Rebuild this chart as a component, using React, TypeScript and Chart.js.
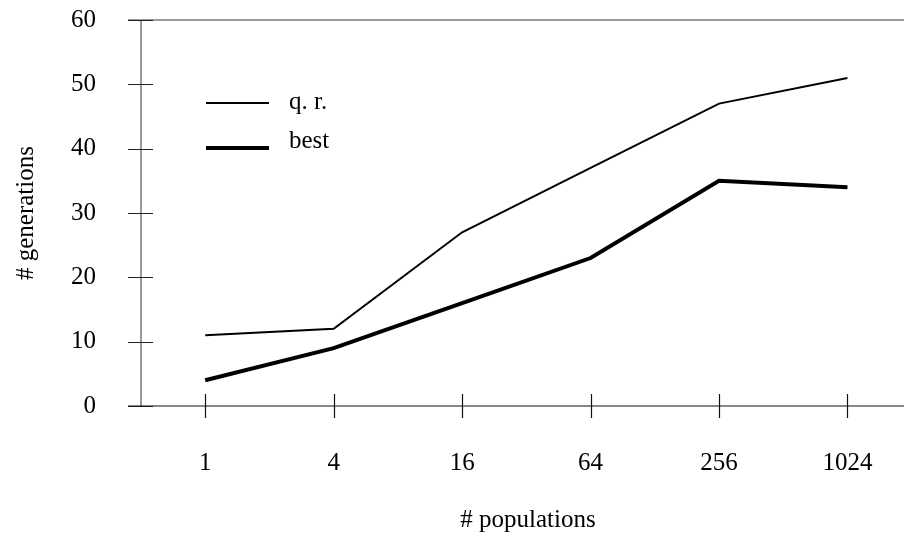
import React, { useEffect, useRef } from "react";
import { Chart, registerables } from "chart.js";

Chart.register(...registerables);

// Number of populations (x categories) and generations needed per series
const populations = ["1", "4", "16", "64", "256", "1024"];
const qrGenerations = [11, 12, 27, 37, 47, 51];
const bestGenerations = [4, 9, 16, 23, 35, 34];
const yTicks = [0, 10, 20, 30, 40, 50, 60];

const seriesLabels = ["q. r.", "best"];
const xTitle = "# populations";
const yTitle = "# generations";

const FONT = "'Liberation Serif', 'Times New Roman', Times, serif";
const FS = 25;
const W = 904;
const H = 538;

// Draws the crossing tick marks, axis lines, in-plot legend and axis titles.
const framePlugin = {
  id: "frame",
  afterDraw(chart: any) {
    const { ctx, chartArea } = chart;
    const { left, right, top, bottom } = chartArea;
    const xs = chart.scales.x;
    const ys = chart.scales.y;
    ctx.save();

    // top frame line
    ctx.strokeStyle = "#7a7a7a";
    ctx.lineWidth = 1.5;
    ctx.beginPath();
    ctx.moveTo(left - 13, top);
    ctx.lineTo(right, top);
    ctx.stroke();

    // y axis line
    ctx.strokeStyle = "#555";
    ctx.lineWidth = 1.2;
    ctx.beginPath();
    ctx.moveTo(left, top);
    ctx.lineTo(left, bottom);
    ctx.stroke();

    // y ticks crossing the axis
    ctx.strokeStyle = "#222";
    ctx.lineWidth = 1;
    yTicks.forEach((v) => {
      const y = Math.round(ys.getPixelForValue(v)) + 0.5;
      ctx.beginPath();
      ctx.moveTo(left - 13, y);
      ctx.lineTo(left + 12, y);
      ctx.stroke();
    });

    // x axis line
    ctx.strokeStyle = "#111";
    ctx.lineWidth = 1.2;
    ctx.beginPath();
    ctx.moveTo(left - 13, bottom);
    ctx.lineTo(right, bottom);
    ctx.stroke();

    // x ticks crossing the axis
    populations.forEach((_, i) => {
      const x = Math.round(xs.getPixelForValue(i)) + 0.5;
      ctx.beginPath();
      ctx.moveTo(x, bottom - 12);
      ctx.lineTo(x, bottom + 12);
      ctx.stroke();
    });

    // legend
    const widths = [2, 4];
    const lineY = [103, 148];
    const textY = [109, 148];
    ctx.fillStyle = "#000";
    ctx.font = `${FS}px ${FONT}`;
    ctx.textBaseline = "alphabetic";
    ctx.textAlign = "left";
    seriesLabels.forEach((lab, i) => {
      ctx.strokeStyle = "#000";
      ctx.lineWidth = widths[i];
      ctx.beginPath();
      ctx.moveTo(206, lineY[i]);
      ctx.lineTo(269, lineY[i]);
      ctx.stroke();
      ctx.fillText(lab, 289, textY[i]);
    });

    // axis titles
    ctx.textAlign = "center";
    ctx.textBaseline = "middle";
    ctx.fillText(xTitle, 528, 520);
    ctx.translate(26, (top + bottom) / 2);
    ctx.rotate(-Math.PI / 2);
    ctx.fillText(yTitle, 0, 0);

    ctx.restore();
  },
};

export default function App() {
  const ref = useRef<HTMLCanvasElement>(null);

  useEffect(() => {
    if (!ref.current) return;
    const toPoints = (arr: number[]) => arr.map((v, i) => ({ x: i, y: v }));
    const chart = new Chart(ref.current, {
      type: "line",
      data: {
        datasets: [
          {
            label: seriesLabels[0],
            data: toPoints(qrGenerations),
            borderColor: "#000",
            borderWidth: 2,
            pointRadius: 0,
            tension: 0,
          },
          {
            label: seriesLabels[1],
            data: toPoints(bestGenerations),
            borderColor: "#000",
            borderWidth: 4,
            pointRadius: 0,
            tension: 0,
          },
        ],
      },
      options: {
        responsive: false,
        animation: false,
        events: [],
        layout: { padding: { top: 20, right: 0, left: 0, bottom: 0 } },
        plugins: {
          legend: { display: false },
          tooltip: { enabled: false },
        },
        scales: {
          x: {
            type: "linear",
            min: -0.5,
            max: 5.44,
            grid: { display: false, drawTicks: false },
            border: { display: false },
            afterBuildTicks: (scale: any) => {
              scale.ticks = populations.map((_, i) => ({ value: i }));
            },
            afterFit: (scale: any) => {
              scale.height = H - 406;
              scale.paddingLeft = 0;
              scale.paddingRight = 0;
            },
            ticks: {
              autoSkip: false,
              maxRotation: 0,
              padding: 42,
              color: "#000",
              font: { family: FONT, size: FS },
              callback: (v: any) => populations[v as number] ?? "",
            },
          },
          y: {
            min: 0,
            max: 60,
            grid: { display: false, drawTicks: false },
            border: { display: false },
            afterBuildTicks: (scale: any) => {
              scale.ticks = yTicks.map((v) => ({ value: v }));
            },
            afterFit: (scale: any) => {
              scale.width = 141;
              scale.paddingTop = 0;
              scale.paddingBottom = 0;
            },
            ticks: {
              padding: 45,
              color: "#000",
              font: { family: FONT, size: FS },
            },
          },
        },
      },
      plugins: [framePlugin],
    });
    return () => chart.destroy();
  }, []);

  return (
    <div style={{ position: "fixed", left: 0, top: 0, width: W, height: H, background: "#fff" }}>
      <canvas ref={ref} width={W} height={H} style={{ display: "block" }} />
    </div>
  );
}
